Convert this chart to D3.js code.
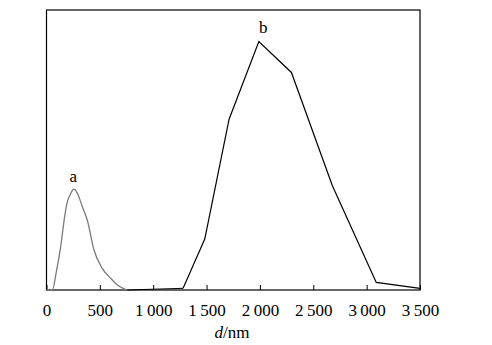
<!DOCTYPE html>
<html>
<head>
<meta charset="utf-8">
<script src="https://cdn.jsdelivr.net/npm/d3@7"></script>
<style>
  body { margin: 0; background: #fff; }
  text { font-family: "Liberation Serif", "Times New Roman", serif; }
</style>
</head>
<body>
<div id="chart"></div>
<script>
"use strict";

// particle size distribution (d in nm, relative intensity)
const sizeA = [54, 95, 133, 170, 195, 220, 257, 289, 335, 382, 445, 522, 601, 678, 756];
const valA = [0, 7.1, 15.5, 26.2, 31.5, 33.9, 36, 34.6, 29.8, 25, 14.3, 7.7, 4.2, 1.4, 0];
const sizeB = [1280, 1483, 1711, 1990, 2295, 2678, 3090, 3500];
const valB = [0.6, 18.2, 61, 88.7, 77.7, 37.3, 2.7, 0.6];
const xTicks = [0, 500, 1000, 1500, 2000, 2500, 3000, 3500];

const msm = {
    width: 492,
    height: 345,
    left: 46.5,
    right: 420,
    top: 10,
    bottom: 290
}

window.onload = function () {
    let svg = d3.select("#chart")
        .append("svg")
        .attr("width", msm.width)
        .attr("height", msm.height);

    let xScale = d3.scaleLinear()
        .domain([0, 3500])
        .range([msm.left, msm.right]);
    let yScale = d3.scaleLinear()
        .domain([0, 100])
        .range([msm.bottom, msm.top]);

    // frame
    svg.append("rect")
        .attr("x", msm.left)
        .attr("y", msm.top)
        .attr("width", msm.right - msm.left)
        .attr("height", msm.bottom - msm.top)
        .attr("fill", "none")
        .attr("stroke", "#000")
        .attr("stroke-width", 1.2);

    // x axis, ticks pointing inward
    let fmt = d => d >= 1000 ? d3.format(",")(d).replace(",", "\u2009") : String(d);
    let xAxis = d3.axisBottom(xScale)
        .tickValues(xTicks)
        .tickSizeInner(-5)
        .tickSizeOuter(0)
        .tickPadding(14)
        .tickFormat(fmt);
    let gx = svg.append("g")
        .attr("transform", "translate(0," + msm.bottom + ")")
        .call(xAxis);
    gx.select(".domain").remove();
    gx.selectAll("line").attr("stroke", "#000");
    gx.selectAll("text")
        .attr("font-size", "17px")
        .attr("fill", "#000")
        .attr("font-family", "Liberation Serif, serif");

    // axis label
    let lab = svg.append("text")
        .attr("x", 232)
        .attr("y", 338)
        .attr("text-anchor", "middle")
        .style("font-size", "17px");
    lab.append("tspan").attr("font-style", "italic").text("d");
    lab.append("tspan").text("/nm");

    let line = d3.line()
        .x(d => xScale(d[0]))
        .y(d => yScale(d[1]))
        .curve(d3.curveMonotoneX);

    // baseline segments for the curves
    let dataA = [[0, 0]].concat(d3.zip(sizeA, valA));
    let dataB = d3.zip(sizeB, valB);

    svg.append("path")
        .datum(dataA)
        .attr("d", line)
        .attr("fill", "none")
        .attr("stroke", "#7a7a7a")
        .attr("stroke-width", 1.3);

    svg.append("path")
        .datum([[sizeA[sizeA.length - 1], 0], [sizeB[0], valB[0]]])
        .attr("d", d3.line().x(d => xScale(d[0])).y(d => yScale(d[1])))
        .attr("fill", "none")
        .attr("stroke", "#000")
        .attr("stroke-width", 1);

    svg.append("path")
        .datum(dataB)
        .attr("d", d3.line().x(d => xScale(d[0])).y(d => yScale(d[1])))
        .attr("fill", "none")
        .attr("stroke", "#000")
        .attr("stroke-width", 1.2);

    // curve labels
    svg.append("text")
        .attr("x", xScale(250))
        .attr("y", yScale(36) - 7)
        .attr("text-anchor", "middle")
        .style("font-size", "17px")
        .text("a");
    svg.append("text")
        .attr("x", xScale(2030))
        .attr("y", yScale(88.7) - 9)
        .attr("text-anchor", "middle")
        .style("font-size", "17px")
        .text("b");
}
</script>
</body>
</html>
